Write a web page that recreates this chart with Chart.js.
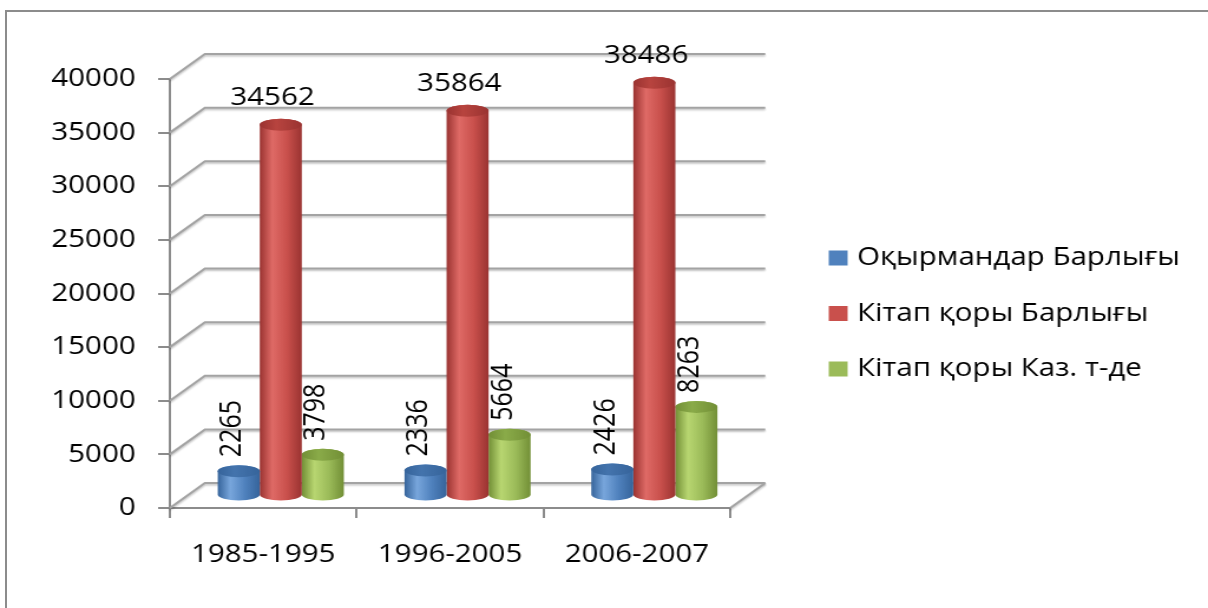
<!DOCTYPE html>
<html>
<head>
<meta charset="utf-8">
<script src="https://cdn.jsdelivr.net/npm/chart.js@4.4.1/dist/chart.umd.min.js"></script>
<style>
    html, body { margin: 0; padding: 0; background: #fff; overflow: hidden; }
    #frame {
        position: absolute; left: 5px; top: 10px;
        width: 1400px; height: 800px;
        border: 2px solid #8c8c8c;
    }
    /* the original picture is stretched sideways, so the chart is drawn narrower and scaled */
    #wrap {
        position: absolute; left: 0; top: 0;
        width: 1024px; height: 608px;
        transform: scaleX(1.1797); transform-origin: 0 0;
    }
</style>
</head>
<body>
<div id="frame"></div>
<div id="wrap"><canvas id="chart"></canvas></div>
<script>
const categories = ["1985-1995", "1996-2005", "2006-2007"];
const seriesNames = ["Оқырмандар Барлығы", "Кітап қоры Барлығы", "Кітап қоры Каз. т-де"];
const readersTotal = [2265, 2336, 2426];
const booksTotal = [34562, 35864, 38486];
const booksKazakh = [3798, 5664, 8263];
const yMax = 40000;
const yStep = 5000;

// depth of the fake 3d box
const depth = {x: 29.7, y: 25};
const gridColor = "#a3a3a3";
const axisColor = "#8c8c8c";

const colors = [
    {base: "#4f81bd", light: "#78a6dc", dark: "#36649b", top: "#4474ad"},
    {base: "#c9504c", light: "#df6a66", dark: "#9a3331", top: "#b8443f"},
    {base: "#9bbb59", light: "#b8d671", dark: "#728f36", top: "#8aab49"},
];

function strokeLine(ctx, points) {
    ctx.beginPath();
    ctx.moveTo(points[0][0], points[0][1]);
    points.slice(1).forEach(p => ctx.lineTo(p[0], p[1]));
    ctx.stroke();
}

const box3d = {
    id: "box3d",
    beforeDatasetsDraw(chart) {
        const {ctx, chartArea} = chart;
        const y = chart.scales.y;
        ctx.save();
        ctx.strokeStyle = gridColor;
        ctx.lineWidth = 2;
        ctx.shadowColor = "rgba(0,0,0,0.25)";
        ctx.shadowBlur = 2;
        ctx.shadowOffsetY = 1.5;
        y.ticks.forEach(tick => {
            const py = y.getPixelForValue(tick.value);
            strokeLine(ctx, [
                [chartArea.left, py],
                [chartArea.left + depth.x, py - depth.y],
                [chartArea.right + depth.x, py - depth.y],
            ]);
        });
        // right edge of the floor
        strokeLine(ctx, [
            [chartArea.right, chartArea.bottom],
            [chartArea.right + depth.x, chartArea.bottom - depth.y],
        ]);
        ctx.restore();
    },
    beforeDatasetDraw(chart, args) {
        const {ctx} = chart;
        const c = colors[args.index];
        ctx.save();
        ctx.translate(depth.x / 2, -depth.y / 2);
        args.meta.data.forEach(bar => {
            const {x, y, base, width} = bar.getProps(["x", "y", "base", "width"], true);
            const rx = width / 2, ry = 6;
            const body = ctx.createLinearGradient(x - rx, 0, x + rx, 0);
            body.addColorStop(0, c.dark);
            body.addColorStop(0.3, c.light);
            body.addColorStop(0.65, c.base);
            body.addColorStop(1, c.dark);
            ctx.fillStyle = body;
            ctx.beginPath();
            ctx.moveTo(x - rx, y);
            ctx.lineTo(x - rx, base);
            ctx.ellipse(x, base, rx, ry, 0, Math.PI, 0, true);
            ctx.lineTo(x + rx, y);
            ctx.ellipse(x, y, rx, ry, 0, 0, Math.PI, true);
            ctx.closePath();
            ctx.fill();

            const top = ctx.createLinearGradient(x - rx, 0, x + rx, 0);
            top.addColorStop(0, c.dark);
            top.addColorStop(0.4, c.top);
            top.addColorStop(1, c.dark);
            ctx.fillStyle = top;
            ctx.beginPath();
            ctx.ellipse(x, y, rx, ry, 0, 0, Math.PI * 2);
            ctx.fill();
        });
        ctx.restore();
        return false;
    },
    afterDatasetsDraw(chart) {
        const {ctx} = chart;
        ctx.save();
        ctx.translate(depth.x / 2, -depth.y / 2);
        ctx.fillStyle = "#000";
        ctx.font = "25px 'Open Sans'";
        chart.data.datasets.forEach((dataset, i) => {
            const meta = chart.getDatasetMeta(i);
            meta.data.forEach((bar, j) => {
                const text = String(dataset.data[j]);
                if (dataset.vertical) {
                    ctx.save();
                    ctx.translate(bar.x - 5.5, bar.y - 14);
                    ctx.rotate(-Math.PI / 2);
                    ctx.textAlign = "left";
                    ctx.textBaseline = "middle";
                    ctx.fillText(text, 0, 0);
                    ctx.restore();
                } else {
                    ctx.textAlign = "center";
                    ctx.textBaseline = "middle";
                    ctx.fillText(text, bar.x - 7, bar.y - 27);
                }
            });
        });
        ctx.restore();
    },
    afterDraw(chart) {
        const {ctx} = chart;
        ctx.save();
        ctx.font = "25px 'Open Sans'";
        ctx.textBaseline = "middle";
        ctx.textAlign = "left";
        chart.data.datasets.forEach((dataset, i) => {
            const cy = 258 + i * 55.5;
            ctx.fillStyle = colors[i].base;
            ctx.fillRect(702.5, cy - 7.5, 16, 15);
            ctx.fillStyle = "#000";
            ctx.fillText(dataset.label, 726.5, cy);
        });
        ctx.restore();
    }
};

Chart.defaults.font.family = "'Open Sans'";
Chart.defaults.color = "#000";

new Chart(document.getElementById("chart"), {
    type: "bar",
    data: {
        labels: categories,
        datasets: [
            {label: seriesNames[0], data: readersTotal, backgroundColor: colors[0].base, vertical: true},
            {label: seriesNames[1], data: booksTotal, backgroundColor: colors[1].base, vertical: false},
            {label: seriesNames[2], data: booksKazakh, backgroundColor: colors[2].base, vertical: true},
        ]
    },
    options: {
        responsive: true,
        maintainAspectRatio: false,
        animation: false,
        categoryPercentage: 0.675,
        barPercentage: 1,
        layout: {padding: {left: 0, top: 79, right: 405, bottom: 0}},
        plugins: {
            legend: {display: false},
            tooltip: {enabled: false},
        },
        scales: {
            x: {
                grid: {drawOnChartArea: false, color: axisColor, lineWidth: 2, tickLength: 10, offset: true},
                border: {color: axisColor, width: 2},
                ticks: {font: {size: 25}, padding: 22, maxRotation: 0},
                afterFit: axis => { axis.height = 100; },
            },
            y: {
                min: 0,
                max: yMax,
                grid: {drawOnChartArea: false, color: axisColor, lineWidth: 2, tickLength: 10},
                border: {color: axisColor, width: 2},
                ticks: {stepSize: yStep, font: {size: 25}, padding: 19, callback: value => String(value)},
                afterFit: axis => { axis.width = 144; },
            }
        }
    },
    plugins: [box3d]
});
</script>
</body>
</html>
